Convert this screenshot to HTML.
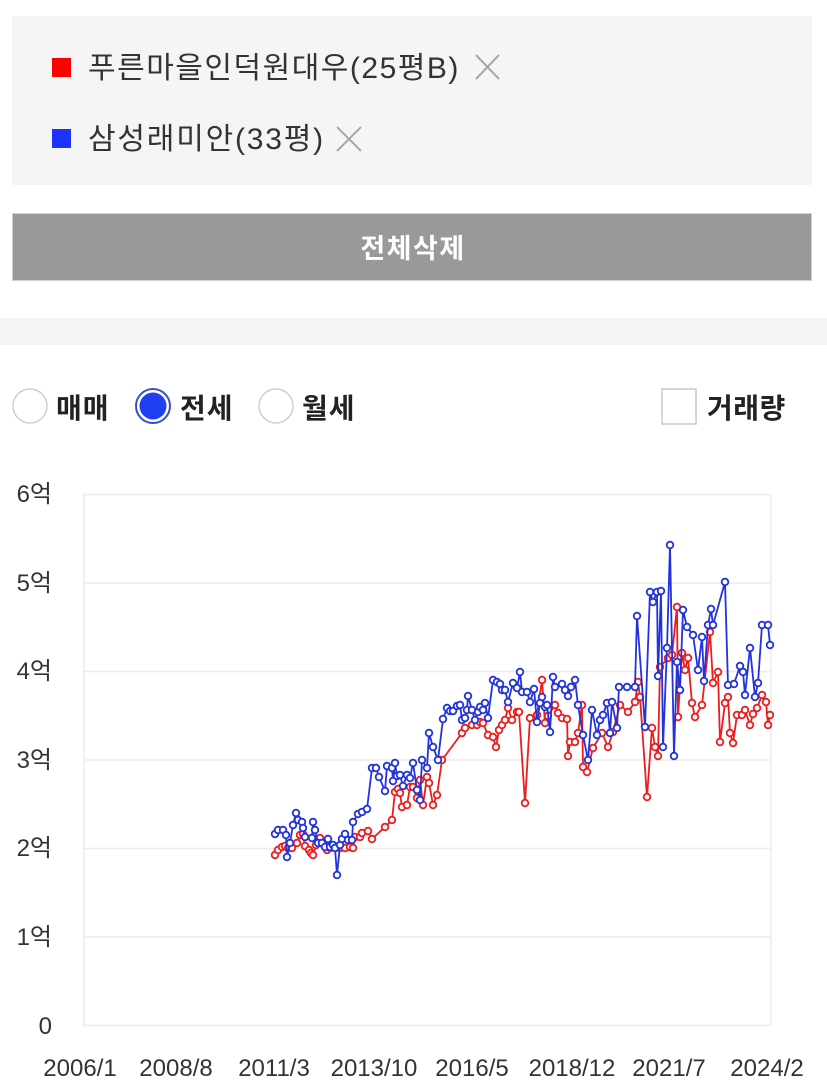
<!DOCTYPE html>
<html><head><meta charset="utf-8"><style>
html,body{margin:0;padding:0;background:#fff;}
svg{display:block;}
</style></head><body>
<svg width="827" height="1091" viewBox="0 0 827 1091" xmlns="http://www.w3.org/2000/svg" font-family="'Liberation Sans','Noto Sans CJK KR',sans-serif">
<defs>
<marker id="mr" markerUnits="userSpaceOnUse" markerWidth="12" markerHeight="12" refX="6" refY="6" viewBox="0 0 12 12"><circle cx="6" cy="6" r="3.3" fill="#fff" stroke="#ee1c1c" stroke-width="1.8"/></marker>
<marker id="mb" markerUnits="userSpaceOnUse" markerWidth="12" markerHeight="12" refX="6" refY="6" viewBox="0 0 12 12"><circle cx="6" cy="6" r="3.3" fill="#fff" stroke="#2233dd" stroke-width="1.8"/></marker>
</defs>

<!-- selection box -->
<rect x="12" y="16" width="800" height="169" fill="#f5f5f5"/>
<rect x="52" y="58" width="19" height="19" fill="#ff0000"/>
<text x="88" y="78" font-size="30" fill="#333" letter-spacing="1.5">푸른마을인덕원대우(25평B)</text>
<path d="M476 55 L499 79 M499 55 L476 79" stroke="#a8a8a8" stroke-width="2" fill="none"/>
<rect x="52" y="129" width="19" height="19" fill="#1e32ff"/>
<text x="88" y="149" font-size="30" fill="#333" letter-spacing="1.8">삼성래미안(33평)</text>
<path d="M337 127 L361 151 M361 127 L337 151" stroke="#a8a8a8" stroke-width="2" fill="none"/>

<!-- button -->
<rect x="12.5" y="213.5" width="799" height="67" fill="#999" stroke="#d0d0d0" stroke-width="1"/>
<text x="413" y="258" font-size="27" font-weight="bold" fill="#fff" text-anchor="middle" letter-spacing="1.5">전체삭제</text>

<!-- band -->
<rect x="0" y="318" width="827" height="27" fill="#f4f4f4"/>

<!-- radios -->
<circle cx="30" cy="406" r="17" fill="#fff" stroke="#cfcfcf" stroke-width="1.5"/>
<text x="56" y="418" font-size="28" font-weight="bold" fill="#222" letter-spacing="1">매매</text>
<circle cx="153" cy="406" r="17" fill="#fff" stroke="#3a4fc8" stroke-width="2"/>
<circle cx="153" cy="406" r="13.5" fill="#1f3ff5"/>
<text x="180" y="418" font-size="28" font-weight="bold" fill="#222" letter-spacing="1">전세</text>
<circle cx="276" cy="406" r="17" fill="#fff" stroke="#cfcfcf" stroke-width="1.5"/>
<text x="302" y="418" font-size="28" font-weight="bold" fill="#222" letter-spacing="1">월세</text>
<rect x="662" y="389" width="34" height="35" fill="#fff" stroke="#c8c8c8" stroke-width="1.5"/>
<text x="707" y="418" font-size="28" font-weight="bold" fill="#222" letter-spacing="0.5">거래량</text>

<!-- chart grid -->
<g stroke="#ececec" stroke-width="1.5" fill="none">
<line x1="84" y1="583" x2="771" y2="583"/>
<line x1="84" y1="671.5" x2="771" y2="671.5"/>
<line x1="84" y1="760" x2="771" y2="760"/>
<line x1="84" y1="848.5" x2="771" y2="848.5"/>
<line x1="84" y1="937" x2="771" y2="937"/>
<rect x="84" y="494.5" width="687" height="531"/>
</g>

<!-- y labels -->
<g font-size="24" fill="#333" text-anchor="end">
<text x="52" y="502">6억</text>
<text x="52" y="591">5억</text>
<text x="52" y="679">4억</text>
<text x="52" y="768">3억</text>
<text x="52" y="856">2억</text>
<text x="52" y="945">1억</text>
<text x="52" y="1034">0</text>
</g>

<!-- x labels -->
<g font-size="24" fill="#333" text-anchor="middle">
<text x="80" y="1076">2006/1</text>
<text x="176" y="1076">2008/8</text>
<text x="274" y="1076">2011/3</text>
<text x="374" y="1076">2013/10</text>
<text x="472" y="1076">2016/5</text>
<text x="572" y="1076">2018/12</text>
<text x="669" y="1076">2021/7</text>
<text x="767" y="1076">2024/2</text>
</g>

<!-- red series -->
<polyline fill="none" stroke="#ee1c1c" stroke-width="1.8" stroke-linejoin="round" marker-start="url(#mr)" marker-mid="url(#mr)" marker-end="url(#mr)" points="275,855 278,850 282,847 285,846 288,848 292,848 297,843 300,835 303,834 305,846 309,850 311,853 313,855 316,845 320,838 324,845 327,850 330,848 335,848 340,848 345,848 350,847 353,848 355,837 360,837 362,833 368,831 372,839 385,827 392,820 395,792 398,789 400,793 402,807 407,805 410,787 413,787 417,798 420,780 423,805 427,777 429,783 433,805 437,795 442,760 462,733 465,728 472,725 477,725 480,722 483,723 488,735 493,737 496,747 499,730 502,725 505,720 508,708 512,720 517,712 519,712 525,803 530,718 537,715 542,680 545,723 548,716 555,705 558,713 562,718 567,719 568,756 570,742 575,742 578,733 582,705 583,767 587,772 593,748 602,733 608,747 613,732 620,705 628,712 635,702 638,682 640,697 647,797 652,728 655,747 658,756 660,667 668,658 672,655 677,607 678,717 682,653 685,670 688,658 692,703 695,717 702,705 710,632 713,683 718,672 720,742 725,703 728,697 730,733 733,743 737,715 742,715 745,710 750,725 753,714 757,708 762,695 766,702 768,725 770,715"/>

<!-- blue series -->
<polyline fill="none" stroke="#2233dd" stroke-width="1.8" stroke-linejoin="round" marker-start="url(#mb)" marker-mid="url(#mb)" marker-end="url(#mb)" points="275,834 278,830 283,830 286,835 287,857 290,843 293,825 296,813 298,820 302,822 303,828 305,837 312,838 313,822 315,830 318,843 322,843 325,847 328,839 330,847 333,845 335,848 337,875 340,845 342,839 345,834 348,840 352,840 353,822 358,814 362,812 367,809 372,768 376,768 379,777 385,791 387,766 392,768 393,781 395,763 397,776 400,775 403,786 407,775 410,778 413,763 417,790 420,800 422,760 427,768 429,733 433,747 438,760 443,719 447,708 450,711 453,711 457,706 460,705 462,720 465,718 467,710 468,696 472,710 475,720 478,712 480,707 483,710 485,703 488,718 493,680 497,682 500,684 502,690 505,690 508,702 513,683 517,688 520,672 522,692 527,692 530,702 534,689 537,722 540,703 542,697 545,707 547,705 550,732 553,677 555,687 562,684 565,690 568,696 571,687 575,680 578,705 583,735 588,760 592,710 597,735 600,720 603,715 607,703 610,733 612,702 617,728 619,687 627,687 635,687 637,616 645,727 650,592 653,602 657,592 658,676 661,591 663,747 667,648 670,545 674,756 677,662 680,690 683,610 687,627 693,635 698,670 702,637 704,681 708,625 711,609 713,625 725,582 728,685 734,684 740,666 743,672 745,695 750,648 755,697 758,683 762,625 768,625 770,645"/>
</svg>
</body></html>
